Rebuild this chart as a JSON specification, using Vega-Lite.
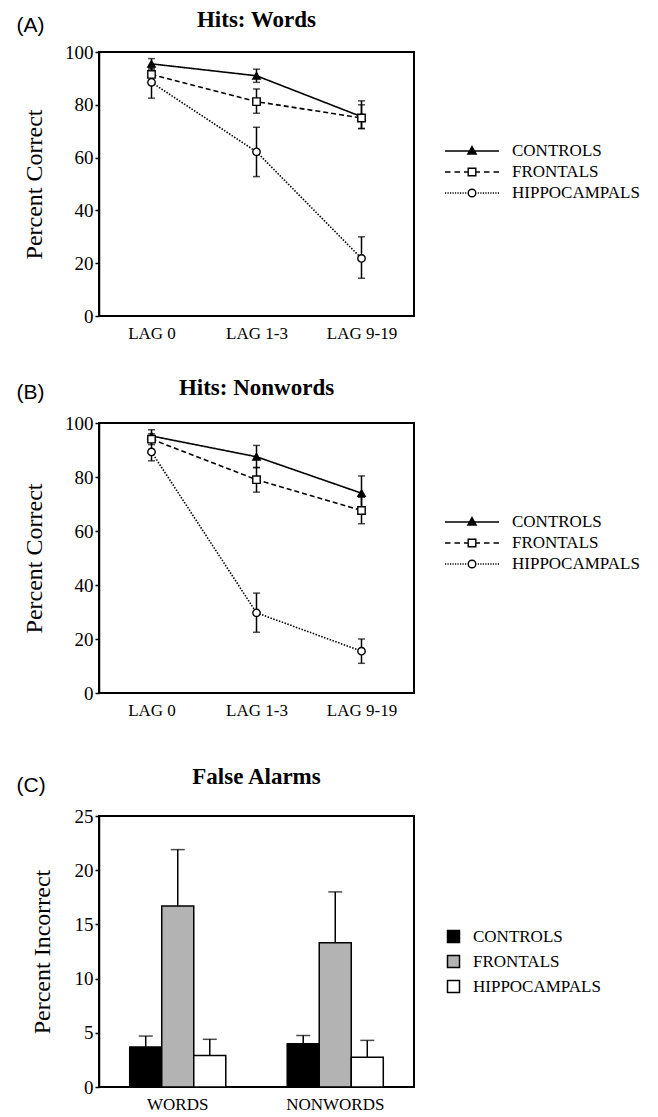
{
  "$schema": "https://vega.github.io/schema/vega-lite/v6.json",
  "background": "white",
  "padding": {"left": 15, "top": 8, "right": 5, "bottom": 0},
  "datasets": {
    "words": [
      {"group": "CONTROLS", "lag": "LAG 0", "value": 95.5, "lo": 93.5, "hi": 97.5},
      {"group": "CONTROLS", "lag": "LAG 1-3", "value": 91, "lo": 88.5, "hi": 93.5},
      {"group": "CONTROLS", "lag": "LAG 9-19", "value": 75.5, "lo": 71, "hi": 81.5},
      {"group": "FRONTALS", "lag": "LAG 0", "value": 91.5, "lo": 89, "hi": 94},
      {"group": "FRONTALS", "lag": "LAG 1-3", "value": 81.2, "lo": 76.8, "hi": 86},
      {"group": "FRONTALS", "lag": "LAG 9-19", "value": 75, "lo": 71, "hi": 80},
      {"group": "HIPPOCAMPALS", "lag": "LAG 0", "value": 88.5, "lo": 82.5, "hi": 94.5},
      {"group": "HIPPOCAMPALS", "lag": "LAG 1-3", "value": 62.2, "lo": 52.8, "hi": 71.5},
      {"group": "HIPPOCAMPALS", "lag": "LAG 9-19", "value": 21.8, "lo": 14.3, "hi": 30}
    ],
    "nonwords": [
      {"group": "CONTROLS", "lag": "LAG 0", "value": 95.2, "lo": 93, "hi": 97.5},
      {"group": "CONTROLS", "lag": "LAG 1-3", "value": 87.5, "lo": 83.5, "hi": 91.7},
      {"group": "CONTROLS", "lag": "LAG 9-19", "value": 74, "lo": 68, "hi": 80.4},
      {"group": "FRONTALS", "lag": "LAG 0", "value": 94, "lo": 92, "hi": 96},
      {"group": "FRONTALS", "lag": "LAG 1-3", "value": 79, "lo": 74.4, "hi": 83.5},
      {"group": "FRONTALS", "lag": "LAG 9-19", "value": 67.6, "lo": 62.7, "hi": 72.5},
      {"group": "HIPPOCAMPALS", "lag": "LAG 0", "value": 89.3, "lo": 86, "hi": 93},
      {"group": "HIPPOCAMPALS", "lag": "LAG 1-3", "value": 29.7, "lo": 22.5, "hi": 37},
      {"group": "HIPPOCAMPALS", "lag": "LAG 9-19", "value": 15.5, "lo": 11, "hi": 20}
    ],
    "falseAlarms": [
      {"stim": "WORDS", "group": "CONTROLS", "value": 3.7, "hi": 4.7},
      {"stim": "WORDS", "group": "FRONTALS", "value": 16.7, "hi": 21.9},
      {"stim": "WORDS", "group": "HIPPOCAMPALS", "value": 2.9, "hi": 4.4},
      {"stim": "NONWORDS", "group": "CONTROLS", "value": 4.0, "hi": 4.75},
      {"stim": "NONWORDS", "group": "FRONTALS", "value": 13.3, "hi": 18.0},
      {"stim": "NONWORDS", "group": "HIPPOCAMPALS", "value": 2.75, "hi": 4.3}
    ]
  },
  "vconcat": [
    {
      "spacing": 34,
      "resolve": {
        "scale": {"strokeDash": "independent", "shape": "independent", "fill": "independent"},
        "legend": {"strokeDash": "independent", "shape": "independent", "fill": "independent"}
      },
      "vconcat": [
        {
          "width": 315,
          "height": 264,
          "data": {"name": "words"},
          "title": {"text": "Hits: Words", "frame": "group", "anchor": "middle", "offset": -18},
          "resolve": {"axis": {"x": "independent"}, "scale": {"shape": "independent"}},
          "layer": [
            {
              "mark": {"type": "line", "color": "black", "strokeWidth": 1.6},
              "encoding": {
                "x": {"field": "lag", "type": "ordinal", "scale": {"type": "point", "padding": 0.5, "domain": ["LAG 0", "LAG 1-3", "LAG 9-19"]},
                      "axis": {"orient": "bottom", "title": null, "labelAngle": 0, "ticks": false, "domain": false, "labelFontSize": 17, "labelPadding": 9}},
                "y": {"field": "value", "type": "quantitative", "scale": {"domain": [0, 100], "nice": false},
                      "axis": {"values": [0, 20, 40, 60, 80, 100], "title": "Percent Correct", "titleFontSize": 24, "titleFontWeight": "normal", "labelFontSize": 19, "tickSize": 4, "tickWidth": 1.5, "domainWidth": 1.5, "labelPadding": 2, "titlePadding": 18}},
                "strokeDash": {"field": "group", "type": "nominal", "scale": {"range": [[1, 0], [5, 3], [1.5, 1.5]]}, "legend": null}
              }
            },
            {
              "mark": {"type": "rule", "color": "black", "strokeWidth": 1.5},
              "encoding": {
                "x": {"field": "lag", "type": "ordinal",
                      "axis": {"orient": "top", "title": "(A)", "labels": false, "ticks": false, "domain": false, "titleFont": "Liberation Sans", "titleFontSize": 21, "titleFontWeight": "normal", "titleAnchor": "start", "titleAlign": "left", "titleBaseline": "middle", "titleX": -83, "titleY": -27, "titleAngle": 0}},
                "y": {"field": "lo", "type": "quantitative"},
                "y2": {"field": "hi"}
              }
            },
            {
              "mark": {"type": "tick", "color": "black", "thickness": 1.5, "size": 7},
              "encoding": {
                "x": {"field": "lag", "type": "ordinal", "axis": null},
                "y": {"field": "lo", "type": "quantitative"}
              }
            },
            {
              "mark": {"type": "tick", "color": "black", "thickness": 1.5, "size": 7},
              "encoding": {
                "x": {"field": "lag", "type": "ordinal", "axis": null},
                "y": {"field": "hi", "type": "quantitative"}
              }
            },
            {
              "mark": {"type": "point", "filled": true, "stroke": "black", "strokeWidth": 1.4, "opacity": 1, "size": 55},
              "encoding": {
                "x": {"field": "lag", "type": "ordinal", "axis": null},
                "y": {"field": "value", "type": "quantitative"},
                "shape": {"field": "group", "type": "nominal", "scale": {"range": ["triangle-up", "square", "circle"]}, "legend": null},
                "fill": {"field": "group", "type": "nominal", "scale": {"range": ["black", "white", "white"]}, "legend": null}
              }
            },
            {
              "mark": {"type": "point", "filled": false, "color": "black", "strokeWidth": 1.4, "opacity": 0},
              "encoding": {
                "x": {"field": "lag", "type": "ordinal", "axis": null},
                "y": {"field": "value", "type": "quantitative"},
                "shape": {"field": "group", "type": "nominal",
                  "scale": {"domain": ["CONTROLS", "FRONTALS", "HIPPOCAMPALS"], "range": [
                    "M-2.7,0H2.7M0,-0.45L0.42,0.3H-0.42ZM0,-0.26L0.24,0.17H-0.24ZM0,-0.1L0.09,0.07H-0.09Z",
                    "M-2.7,0H-2.15M-1.75,0H-1.2M-0.8,0H-0.38M0.38,0H0.8M1.2,0H1.75M2.15,0H2.7M-0.38,-0.38H0.38V0.38H-0.38Z",
                    "M-2.7,0H-2.58M-2.45,0H-2.33M-2.2,0H-2.08M-1.95,0H-1.83M-1.7,0H-1.58M-1.45,0H-1.33M-1.2,0H-1.08M-0.95,0H-0.83M-0.7,0H-0.58M0.58,0H0.7M0.83,0H0.95M1.08,0H1.2M1.33,0H1.45M1.58,0H1.7M1.83,0H1.95M2.08,0H2.2M2.33,0H2.45M2.58,0H2.7M-0.38,0A0.38,0.38,0,1,0,0.38,0A0.38,0.38,0,1,0,-0.38,0Z"
                  ]},
                  "legend": {"title": null, "orient": "none", "legendX": 362, "legendY": 88, "symbolSize": 400, "symbolOpacity": 1, "symbolStrokeColor": "black", "symbolStrokeWidth": 1.4, "labelOffset": 29, "rowPadding": 2, "labelFont": "Liberation Serif", "labelFontSize": 17, "labelColor": "black"}}
              }
            }
          ]
        },
        {
          "width": 315,
          "height": 270,
          "data": {"name": "nonwords"},
          "title": {"text": "Hits: Nonwords", "frame": "group", "anchor": "middle", "offset": -19},
          "resolve": {"axis": {"x": "independent"}, "scale": {"shape": "independent"}},
          "layer": [
            {
              "mark": {"type": "line", "color": "black", "strokeWidth": 1.6},
              "encoding": {
                "x": {"field": "lag", "type": "ordinal", "scale": {"type": "point", "padding": 0.5, "domain": ["LAG 0", "LAG 1-3", "LAG 9-19"]},
                      "axis": {"orient": "bottom", "title": null, "labelAngle": 0, "ticks": false, "domain": false, "labelFontSize": 17, "labelPadding": 9}},
                "y": {"field": "value", "type": "quantitative", "scale": {"domain": [0, 100], "nice": false},
                      "axis": {"values": [0, 20, 40, 60, 80, 100], "title": "Percent Correct", "titleFontSize": 24, "titleFontWeight": "normal", "labelFontSize": 19, "tickSize": 4, "tickWidth": 1.5, "domainWidth": 1.5, "labelPadding": 2, "titlePadding": 18}},
                "strokeDash": {"field": "group", "type": "nominal", "scale": {"range": [[1, 0], [5, 3], [1.5, 1.5]]}, "legend": null}
              }
            },
            {
              "mark": {"type": "rule", "color": "black", "strokeWidth": 1.5},
              "encoding": {
                "x": {"field": "lag", "type": "ordinal",
                      "axis": {"orient": "top", "title": "(B)", "labels": false, "ticks": false, "domain": false, "titleFont": "Liberation Sans", "titleFontSize": 21, "titleFontWeight": "normal", "titleAnchor": "start", "titleAlign": "left", "titleBaseline": "middle", "titleX": -83, "titleY": -31, "titleAngle": 0}},
                "y": {"field": "lo", "type": "quantitative"},
                "y2": {"field": "hi"}
              }
            },
            {
              "mark": {"type": "tick", "color": "black", "thickness": 1.5, "size": 7},
              "encoding": {
                "x": {"field": "lag", "type": "ordinal", "axis": null},
                "y": {"field": "lo", "type": "quantitative"}
              }
            },
            {
              "mark": {"type": "tick", "color": "black", "thickness": 1.5, "size": 7},
              "encoding": {
                "x": {"field": "lag", "type": "ordinal", "axis": null},
                "y": {"field": "hi", "type": "quantitative"}
              }
            },
            {
              "mark": {"type": "point", "filled": true, "stroke": "black", "strokeWidth": 1.4, "opacity": 1, "size": 55},
              "encoding": {
                "x": {"field": "lag", "type": "ordinal", "axis": null},
                "y": {"field": "value", "type": "quantitative"},
                "shape": {"field": "group", "type": "nominal", "scale": {"range": ["triangle-up", "square", "circle"]}, "legend": null},
                "fill": {"field": "group", "type": "nominal", "scale": {"range": ["black", "white", "white"]}, "legend": null}
              }
            },
            {
              "mark": {"type": "point", "filled": false, "color": "black", "strokeWidth": 1.4, "opacity": 0},
              "encoding": {
                "x": {"field": "lag", "type": "ordinal", "axis": null},
                "y": {"field": "value", "type": "quantitative"},
                "shape": {"field": "group", "type": "nominal",
                  "scale": {"domain": ["CONTROLS", "FRONTALS", "HIPPOCAMPALS"], "range": [
                    "M-2.7,0H2.7M0,-0.45L0.42,0.3H-0.42ZM0,-0.26L0.24,0.17H-0.24ZM0,-0.1L0.09,0.07H-0.09Z",
                    "M-2.7,0H-2.15M-1.75,0H-1.2M-0.8,0H-0.38M0.38,0H0.8M1.2,0H1.75M2.15,0H2.7M-0.38,-0.38H0.38V0.38H-0.38Z",
                    "M-2.7,0H-2.58M-2.45,0H-2.33M-2.2,0H-2.08M-1.95,0H-1.83M-1.7,0H-1.58M-1.45,0H-1.33M-1.2,0H-1.08M-0.95,0H-0.83M-0.7,0H-0.58M0.58,0H0.7M0.83,0H0.95M1.08,0H1.2M1.33,0H1.45M1.58,0H1.7M1.83,0H1.95M2.08,0H2.2M2.33,0H2.45M2.58,0H2.7M-0.38,0A0.38,0.38,0,1,0,0.38,0A0.38,0.38,0,1,0,-0.38,0Z"
                  ]},
                  "legend": {"title": null, "orient": "none", "legendX": 362, "legendY": 88, "symbolSize": 400, "symbolOpacity": 1, "symbolStrokeColor": "black", "symbolStrokeWidth": 1.4, "labelOffset": 29, "rowPadding": 2, "labelFont": "Liberation Serif", "labelFontSize": 17, "labelColor": "black"}}
              }
            }
          ]
        }
      ]
    },
    {
      "width": 315,
      "height": 271,
      "data": {"name": "falseAlarms"},
      "title": {"text": "False Alarms", "frame": "group", "anchor": "middle", "offset": -15},
      "resolve": {"axis": {"x": "independent"}},
      "layer": [
        {
          "mark": {"type": "bar", "stroke": "black", "strokeWidth": 1.5},
          "encoding": {
            "x": {"field": "stim", "type": "nominal", "scale": {"domain": ["WORDS", "NONWORDS"], "paddingInner": 0.39, "paddingOuter": 0.195},
                  "axis": {"orient": "bottom", "title": null, "labelAngle": 0, "ticks": false, "domain": false, "labelFontSize": 17, "labelPadding": 9}},
            "xOffset": {"field": "group", "type": "nominal", "scale": {"domain": ["CONTROLS", "FRONTALS", "HIPPOCAMPALS"], "paddingInner": 0, "paddingOuter": 0}},
            "y": {"field": "value", "type": "quantitative", "scale": {"domain": [0, 25], "nice": false},
                  "axis": {"values": [0, 5, 10, 15, 20, 25], "title": "Percent Incorrect", "titleFontSize": 24, "titleFontWeight": "normal", "labelFontSize": 19, "tickSize": 4, "tickWidth": 1.5, "domainWidth": 1.5, "labelPadding": 2, "titlePadding": 20}},
            "fill": {"field": "group", "type": "nominal", "scale": {"domain": ["CONTROLS", "FRONTALS", "HIPPOCAMPALS"], "range": ["black", "#b3b3b3", "white"]},
                     "legend": {"title": null, "orient": "none", "legendX": 346, "legendY": 112, "symbolType": "square", "symbolSize": 144, "symbolStrokeColor": "black", "symbolStrokeWidth": 1.5, "labelOffset": 11, "rowPadding": 6, "labelFont": "Liberation Serif", "labelFontSize": 17, "labelColor": "black"}}
          }
        },
        {
          "mark": {"type": "rule", "color": "black", "strokeWidth": 1.5},
          "encoding": {
            "x": {"field": "stim", "type": "nominal",
                  "axis": {"orient": "top", "title": "(C)", "labels": false, "ticks": false, "domain": false, "titleFont": "Liberation Sans", "titleFontSize": 21, "titleFontWeight": "normal", "titleAnchor": "start", "titleAlign": "left", "titleBaseline": "middle", "titleX": -83, "titleY": -31, "titleAngle": 0}},
            "xOffset": {"field": "group", "type": "nominal"},
            "y": {"field": "value", "type": "quantitative"},
            "y2": {"field": "hi"}
          }
        },
        {
          "mark": {"type": "tick", "color": "black", "thickness": 1.5, "size": 14},
          "encoding": {
            "x": {"field": "stim", "type": "nominal", "axis": null},
            "xOffset": {"field": "group", "type": "nominal"},
            "y": {"field": "hi", "type": "quantitative"}
          }
        }
      ]
    }
  ],
  "spacing": 46,
  "resolve": {
    "scale": {"strokeDash": "independent", "shape": "independent", "fill": "independent"},
    "legend": {"strokeDash": "independent", "shape": "independent", "fill": "independent"}
  },
  "config": {
    "view": {"stroke": "black", "strokeWidth": 2},
    "axis": {"grid": false, "domainColor": "black", "tickColor": "black", "labelColor": "black", "titleColor": "black", "labelFont": "Liberation Serif", "titleFont": "Liberation Serif"},
    "title": {"font": "Liberation Serif", "fontWeight": "bold", "fontSize": 23, "color": "black"},
    "legend": {"labelFont": "Liberation Serif", "labelFontSize": 17, "labelColor": "black"}
  }
}
